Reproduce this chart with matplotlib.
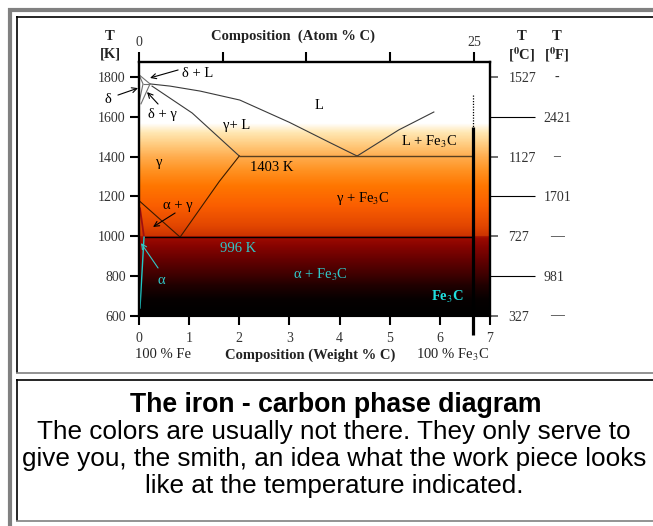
import numpy as np
import matplotlib.pyplot as plt
from matplotlib.colors import LinearSegmentedColormap
from matplotlib import transforms
from matplotlib.lines import Line2D

plt.rcParams['font.family'] = ['Liberation Serif', 'DejaVu Serif']
plt.rcParams['mathtext.fontset'] = 'stix'

W, H = 653, 526

# phase boundaries: composition (weight % C) and temperature (K)
liq_hypo_wt = [0.22, 0.62, 1.22, 2.01, 3.0, 3.81, 4.35]
liq_hypo_T = [1765, 1754, 1729, 1684, 1572, 1470, 1403]
liq_hyper_wt = [4.35, 5.18, 5.88]
liq_hyper_T = [1403, 1534, 1624]
solidus_wt = [0.26, 1.06, 2.0]
solidus_T = [1754, 1619, 1403]
acm_wt = [2.0, 1.6, 1.2, 0.82]
acm_T = [1403, 1275, 1132, 996]
a3_wt = [0.01, 0.82]
a3_T = [1177, 996]
eutectic_wt = [2.0, 6.67]
eutectic_T = 1403
eutectoid_wt = [0.1, 6.67]
eutectoid_T = 996
ag_wt = [0.02, 0.1]
ag_T = [1140, 996]
alpha_wt = [0.1, 0.02]
alpha_T = [996, 640]
delta_L_wt = [0.0, 0.1, 0.22]
delta_L_T = [1811, 1790, 1765]
delta_wt = [0.0, 0.08, 0.0]
delta_T = [1811, 1765, 1670]
delta_g_wt = [0.22, 0.04]
delta_g_T = [1765, 1665]
peritectic_wt = [0.08, 0.22]
peritectic_T = 1765
fe3c_wt = 6.67
fe3c_solid_T = [1550, 504]
fe3c_dot_T = [1709, 1550]

# temperature scales
K_ticks = [600, 800, 1000, 1200, 1400, 1600, 1800]
wt_ticks = [0, 1, 2, 3, 4, 5, 6, 7]
at_ticks = [0, 6.25, 12.5, 18.75, 25]
at_labels = ['0', '', '', '', '25']
C_ticks = [1527, 1127, 727, 327]
C_dash = ['-', '–', '—', '—']
F_ticks = [2421, 1701, 981]

# colour of hot iron vs temperature
glow_T = [600, 680, 750, 800, 870, 950, 994, 1000, 1050, 1150, 1250, 1330, 1400, 1460, 1520, 1545, 1565, 1875]
glow_col = ['#000000', '#060000', '#200000', '#3c0000', '#600000', '#880400', '#a00c00', '#cc3400',
            '#e24600', '#fa5e00', '#ff7600', '#ff9222', '#ffae50', '#ffcc80', '#ffe8b4', '#fff4dc',
            '#ffffff', '#ffffff']

fig = plt.figure(figsize=(W / 100, H / 100), dpi=100)


def px(x, y):
    return x / W, 1 - y / H


# page frames
def fline(xs, ys, color, lw):
    fx = [x / W for x in xs]
    fy = [1 - y / H for y in ys]
    fig.add_artist(Line2D(fx, fy, color=color, lw=lw, solid_capstyle='butt'))


fline([10, 10], [8, 526], '#808080', 3)
fline([8, 653], [10, 10], '#808080', 3)
fline([16.5, 16.5], [16, 373], 'black', 1.2)
fline([16, 653], [16.5, 16.5], 'black', 1.2)
fline([16, 653], [373, 373], '#808080', 1.2)
fline([16, 653], [379.5, 379.5], 'black', 1.2)
fline([16.5, 16.5], [379, 521], 'black', 1.2)
fline([16, 653], [521, 521], '#808080', 1.2)

ax = fig.add_axes([139 / W, 1 - 316 / H, (490 - 139) / W, (316 - 62) / H])
ax.set_xlim(0, 7)
ax.set_ylim(600, 1875)

stops = [(t - 600) / (1875 - 600) for t in glow_T]
cmap = LinearSegmentedColormap.from_list('glow', list(zip(stops, glow_col)))
grad = np.linspace(600, 1875, 600).reshape(-1, 1)
ax.imshow(grad, cmap=cmap, vmin=600, vmax=1875, origin='lower', aspect='auto',
          extent=[0, 7, 600, 1875], zorder=0)

dark = '#3a3a3a'
ax.plot(liq_hypo_wt, liq_hypo_T, color=dark, lw=0.8)
ax.plot(liq_hyper_wt, liq_hyper_T, color=dark, lw=0.8)
ax.plot(solidus_wt, solidus_T, color=dark, lw=0.8)
ax.plot(acm_wt, acm_T, color='#3a1a00', lw=0.8)
ax.plot(a3_wt, a3_T, color='#3a1a00', lw=0.8)
ax.hlines(eutectic_T, *eutectic_wt, color='#5a4020', lw=1.0)
ax.hlines(eutectoid_T, *eutectoid_wt, color='black', lw=1.0)
ax.plot(ag_wt, ag_T, color='#a01010', lw=1.3)
ax.plot(alpha_wt, alpha_T, color='#20c8c8', lw=1.0)
ax.plot(delta_L_wt, delta_L_T, color='#707070', lw=0.8)
ax.plot(delta_wt, delta_T, color='#707070', lw=0.8)
ax.plot(delta_g_wt, delta_g_T, color='#707070', lw=0.8)
ax.hlines(peritectic_T, *peritectic_wt, color='#707070', lw=0.8)
ax.plot([fe3c_wt, fe3c_wt], fe3c_solid_T, color='black', lw=2.3, clip_on=False,
        solid_capstyle='butt', zorder=5)
ax.plot([fe3c_wt, fe3c_wt], fe3c_dot_T, color='black', lw=0.9, ls=(0, (1, 1.2)))

# phase labels
fs = 10.5
labels = [
    ('δ + L', 1.16, 1815, 'black'), ('δ', -0.62, 1689, 'black'), ('δ + γ', 0.46, 1609, 'black'),
    ('L', 3.59, 1659, 'black'), ('γ+ L', 1.95, 1554, 'black'), ('L + Fe$_3$C', 5.78, 1473, 'black'),
    ('γ', 0.40, 1373, 'black'), ('1403 K', 2.65, 1343, 'black'), ('γ + Fe$_3$C', 4.47, 1192, 'black'),
    ('α + γ', 0.78, 1157, 'black'), ('996 K', 1.97, 941, '#30c8c8'), ('α', 0.44, 780, '#30c8c8'),
    ('α + Fe$_3$C', 3.61, 806, '#30c8c8'),
]
for txt, x, y, c in labels:
    ax.text(x, y, txt, color=c, fontsize=fs, ha='center', va='center', clip_on=False)
ax.text(6.16, 695, 'Fe$_3$C', color='#20e0e0', fontsize=fs, fontweight='bold',
        ha='center', va='center')

arrows = [
    ((0.78, 1835), (0.22, 1795), 'black'), ((-0.42, 1709), (-0.02, 1744), 'black'),
    ((0.38, 1664), (0.16, 1724), 'black'), ((0.72, 1117), (0.28, 1047), 'black'),
    ((0.38, 841), (0.04, 966), '#30c8c8'),
]
for tail, head, c in arrows:
    ax.annotate('', xy=head, xytext=tail, annotation_clip=False,
                arrowprops=dict(arrowstyle='->', color=c, lw=0.8, shrinkA=0, shrinkB=0,
                                mutation_scale=9))

# axes styling
for s in ['left', 'top', 'right']:
    ax.spines[s].set_linewidth(1.7)
ax.spines['bottom'].set_linewidth(0.8)
ax.set_yticks(K_ticks)
ax.set_xticks(wt_ticks)
ax.tick_params(axis='y', length=6.5, width=1.5, labelsize=10, labelcolor='#333333', pad=3)
ax.tick_params(axis='x', length=6.5, width=1.5, labelsize=10, labelcolor='#333333', pad=5)

top = ax.secondary_xaxis('top', functions=(lambda w: w * 25 / 6.68, lambda a: a * 6.68 / 25))
top.set_xticks(at_ticks)
top.set_xticklabels(at_labels)
top.spines['top'].set_visible(False)
top.tick_params(length=7.2, width=1.5, labelsize=10, labelcolor='#333333', pad=2)

rc = ax.secondary_yaxis('right', functions=(lambda k: k - 273, lambda c: c + 273))
rc.set_yticks(C_ticks)
rc.spines['right'].set_visible(False)
rc.tick_params(length=5.8, width=1.2, color='#555555', labelsize=10, labelcolor='#333333', pad=7.5)

rf = ax.secondary_yaxis('right', functions=(lambda k: (k - 273) * 9 / 5 + 32,
                                            lambda f: (f - 32) * 5 / 9 + 273))
rf.set_yticks(F_ticks)
rf.spines['right'].set_visible(False)
rf.tick_params(length=32.5, width=0.8, labelsize=10, labelcolor='#333333', pad=6)

blend = transforms.blended_transform_factory(fig.transFigure, ax.transData)
for c, d in zip(C_ticks, C_dash):
    ax.text(557 / W, c + 273, d, transform=blend, fontsize=10, ha='center', va='center',
            color='#333333')

# axis titles
bold = dict(fontsize=10.5, fontweight='bold', ha='center', va='center', color='#222222')
fig.text(*px(110, 37), 'T', **bold)
fig.text(*px(110, 54), '[K]', **bold)
fig.text(*px(522, 37), 'T', **bold)
fig.text(*px(522, 55), r'[$^\mathbf{0}$C]', **bold)
fig.text(*px(557, 37), 'T', **bold)
fig.text(*px(557, 55), r'[$^\mathbf{0}$F]', **bold)
fig.text(*px(293, 36), 'Composition  (Atom % C)', **bold)
fig.text(*px(310, 355), 'Composition (Weight % C)', **bold)
fig.text(*px(163, 355), '100 % Fe', fontsize=10.5, ha='center', va='center', color='#222222')
fig.text(*px(453, 355), '100 % Fe$_3$C', fontsize=10.5, ha='center', va='center', color='#222222')

# caption
sans = ['Liberation Sans', 'DejaVu Sans']
fig.text(*px(336, 405), 'The iron - carbon phase diagram', family=sans, fontsize=19.2,
         fontweight='bold', ha='center', va='center')
caption = ['The colors are usually not there. They only serve to',
           'give you, the smith, an idea what the work piece looks',
           'like at the temperature indicated.']
for i, line in enumerate(caption):
    fig.text(*px(334, 432 + 27 * i), line, family=sans, fontsize=18.8, ha='center', va='center')

fig.savefig('out.png', dpi=100)
